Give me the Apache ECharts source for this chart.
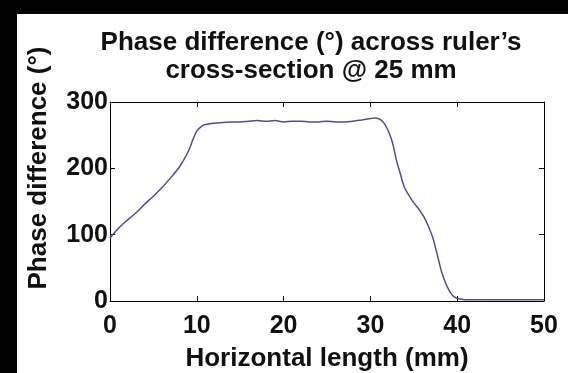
<!DOCTYPE html>
<html>
<head>
<meta charset="UTF-8">
<title>Phase difference</title>
<style>
  html, body { margin: 0; padding: 0; background: #000; }
  #chart { position: absolute; left: 17px; top: 14px; width: 551px; height: 359px; background: #fff; }
</style>
</head>
<body>
<div id="chart"></div>
<script src="https://cdn.jsdelivr.net/npm/echarts@6/dist/echarts.min.js"></script>
<script>
// horizontal position (mm) and phase difference (deg)
var xMm = [0, 1, 2, 3, 4, 5, 6, 7, 8, 9, 9.6, 10, 10.5, 11, 12, 13, 14, 15, 16, 17, 18, 19, 20,
  21, 22, 23, 24, 25, 26, 27, 28, 29, 30, 30.6, 31.2, 31.7, 32.2, 32.6, 33, 33.4, 33.9, 34.5,
  35, 35.6, 36.2, 36.7, 37.2, 37.7, 38.2, 38.7, 39.2, 39.7, 40.3, 41, 42, 44, 46, 48, 50];
var phaseDeg = [95, 110, 122, 133, 146, 158, 171, 186, 202, 225, 245, 256, 263, 266, 268, 269, 270, 270, 271, 272, 271, 272, 270,
  271, 271, 270, 270, 271, 270, 270, 271, 273, 275, 276, 273, 266, 252, 236, 212, 194, 172, 158,
  148, 138, 126, 112, 95, 70, 44, 26, 13, 6, 3, 2, 2, 2, 2, 2, 2];
var xTicks = [0, 10, 20, 30, 40, 50];
var yTicks = [0, 100, 200, 300];

var font = 'Liberation Sans, Arial, sans-serif';
var ink = '#111';

var chart = echarts.init(document.getElementById('chart'));

var points = [];
for (var i = 0; i < xMm.length; i++) {
  points.push([xMm[i], phaseDeg[i]]);
}

var frameLine = { show: true, onZero: false, lineStyle: { color: '#000', width: 1 } };
var innerTick = { show: true, inside: true, length: 5, lineStyle: { color: '#000' } };
var tickText = { color: ink, fontSize: 25, fontWeight: 'bold', fontFamily: font };

chart.setOption({
  animation: false,
  backgroundColor: '#fff',
  grid: { left: 93, top: 88, right: 24, bottom: 72, outerBoundsMode: 'none', containLabel: false },
  graphic: [{
    type: 'text',
    x: 294, y: 14.5,
    style: {
      text: 'Phase difference (°) across ruler’s\ncross-section @ 25 mm',
      font: 'bold 26px ' + font,
      fill: ink,
      align: 'center',
      verticalAlign: 'top',
      lineHeight: 28
    }
  }, {
    type: 'text',
    x: 22, y: 154,
    rotation: Math.PI / 2,
    style: {
      text: 'Phase difference (°)',
      font: 'bold 26px ' + font,
      fill: ink,
      align: 'center',
      verticalAlign: 'middle'
    }
  }],
  xAxis: [{
    type: 'value',
    min: xTicks[0], max: xTicks[xTicks.length - 1], interval: 10,
    name: 'Horizontal length (mm)',
    nameLocation: 'middle',
    nameGap: 45,
    nameTextStyle: { color: ink, fontSize: 26, fontWeight: 'bold', fontFamily: font },
    axisLine: frameLine,
    axisTick: innerTick,
    axisLabel: Object.assign({ margin: 13 }, tickText),
    splitLine: { show: false }
  }, {
    type: 'value', position: 'top',
    min: xTicks[0], max: xTicks[xTicks.length - 1], interval: 10,
    axisLine: frameLine,
    axisTick: innerTick,
    axisLabel: { show: false },
    splitLine: { show: false }
  }],
  yAxis: [{
    type: 'value',
    min: yTicks[0], max: yTicks[yTicks.length - 1], interval: 100,
    axisLine: frameLine,
    axisTick: innerTick,
    axisLabel: Object.assign({ margin: 2 }, tickText),
    splitLine: { show: false }
  }, {
    type: 'value', position: 'right',
    min: yTicks[0], max: yTicks[yTicks.length - 1], interval: 100,
    axisLine: frameLine,
    axisTick: innerTick,
    axisLabel: { show: false },
    splitLine: { show: false }
  }],
  series: [{
    type: 'line',
    data: points,
    showSymbol: false,
    smooth: 0.3,
    lineStyle: { color: '#4d4d9c', width: 1.5 },
    itemStyle: { color: '#4d4d9c' }
  }]
});
</script>
</body>
</html>
